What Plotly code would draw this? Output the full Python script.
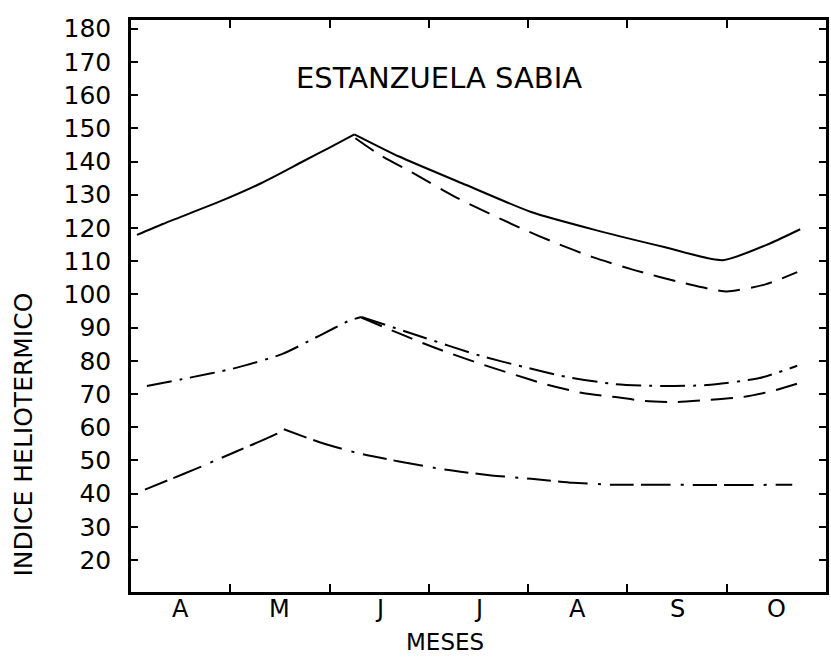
import plotly.graph_objects as go

# ---- data (x in month units from the start of April) ----
months = ["A", "M", "J", "J", "A", "S", "O"]
month_bounds = [1, 2, 3, 4, 5, 6]
y_ticks = list(range(20, 190, 10))

s1_x = [0.06, 0.32, 0.89, 1.32, 1.73, 2.00, 2.25, 2.70, 3.37, 4.03, 4.70, 5.38, 5.96, 6.44, 6.74]
s1_y = [117.9, 121.2, 127.9, 133.6, 140.0, 144.2, 148.2, 141.5, 133.0, 124.8, 119.2, 114.2, 110.3, 115.4, 119.6]
s1_peak = 6

s2_x = [2.26, 2.50, 2.83, 3.30, 3.92, 4.30, 4.65, 5.07, 5.58, 6.00, 6.39, 6.71]
s2_y = [147.0, 142.1, 136.7, 128.8, 120.0, 115.2, 111.2, 107.3, 103.3, 100.9, 103.0, 106.7]

s3_x = [0.16, 0.57, 1.02, 1.52, 1.90, 2.20, 2.32, 2.88, 3.52, 3.95, 4.38, 4.87, 5.34, 5.80, 6.33, 6.71]
s3_y = [72.4, 74.8, 77.6, 82.0, 87.6, 92.1, 93.2, 87.7, 81.5, 78.2, 75.2, 73.0, 72.4, 72.7, 74.8, 78.5]
s3_peak = 6

s4_x = [2.32, 2.60, 2.95, 3.20, 3.52, 3.80, 4.17, 4.55, 4.88, 5.18, 5.50, 5.80, 6.16, 6.46, 6.73]
s4_y = [93.0, 89.5, 85.2, 82.4, 79.1, 76.4, 73.0, 70.3, 69.1, 67.9, 67.6, 68.2, 69.1, 70.9, 73.3]

s5_x = [0.14, 0.41, 0.64, 1.06, 1.46, 1.54, 1.90, 2.30, 2.70, 3.15, 3.63, 4.03, 4.45, 4.85, 5.34, 6.00, 6.66]
s5_y = [41.2, 44.5, 47.3, 52.7, 57.9, 59.4, 55.5, 52.1, 49.7, 47.3, 45.5, 44.5, 43.3, 42.7, 42.7, 42.6, 42.7]
s5_peak = 5

title_text = "ESTANZUELA SABIA"
x_title = "MESES"
y_title = "INDICE HELIOTERMICO"

DASH = "22px,11px"
DASHDOT = "25px,8px,3px,8px"
DASHDOT2 = "24px,7px,30px,10px,3px,9px"

fig = go.Figure()


def add(x, y, dash, peak=None):
    parts = [(x, y)] if peak is None else [(x[:peak + 1], y[:peak + 1]), (x[peak:], y[peak:])]
    for px, py in parts:
        fig.add_trace(go.Scatter(
            x=px, y=py, mode="lines",
            line=dict(color="black", width=2, dash=dash, shape="spline", smoothing=0.6),
            hoverinfo="skip", showlegend=False))


add(s1_x, s1_y, "solid", s1_peak)
add(s2_x, s2_y, DASH)
add(s3_x, s3_y, DASHDOT, s3_peak)
add(s4_x, s4_y, DASH)
add(s5_x, s5_y, DASHDOT2, s5_peak)

FONT = "DejaVu Sans"

annotations = []
for i, m in enumerate(months):
    annotations.append(dict(x=i + 0.5, y=0, xref="x", yref="paper", text=m, showarrow=False,
                            xanchor="center", yanchor="top", yshift=-1,
                            font=dict(family=FONT, size=24, color="black")))
annotations.append(dict(x=0.4513, y=0, xref="paper", yref="paper", text=x_title, showarrow=False,
                        xanchor="center", yanchor="top", yshift=-35,
                        font=dict(family=FONT, size=23, color="black")))
annotations.append(dict(x=0.4427, y=0.8986, xref="paper", yref="paper", text=title_text, showarrow=False,
                        xanchor="center", yanchor="middle",
                        font=dict(family=FONT, size=29, color="black")))
annotations.append(dict(x=-0.1547, y=0.276, xref="paper", yref="paper", text=y_title, showarrow=False,
                        xanchor="center", yanchor="middle", textangle=-90,
                        font=dict(family=FONT, size=25, color="black")))

fig.update_layout(
    width=831, height=659,
    margin=dict(l=131, r=2, t=20, b=67),
    paper_bgcolor="white", plot_bgcolor="white",
    showlegend=False,
    font=dict(family=FONT, color="black"),
    annotations=annotations,
    xaxis=dict(range=[0, 7], tickvals=month_bounds, ticktext=[""] * len(month_bounds),
               ticks="inside", ticklen=8, tickwidth=2, tickcolor="black",
               showline=True, linewidth=2.5, linecolor="black", mirror="ticks",
               showgrid=False, zeroline=False),
    yaxis=dict(range=[10.4, 182.6], tickvals=y_ticks, ticktext=[str(v) for v in y_ticks],
               ticks="inside", ticklen=7, tickwidth=2, tickcolor="black",
               showline=True, linewidth=2.5, linecolor="black", mirror="ticks",
               showgrid=False, zeroline=False,
               tickfont=dict(family=FONT, size=25, color="black"),
               ticklabelstandoff=12),
)

fig.write_html("out.html")
